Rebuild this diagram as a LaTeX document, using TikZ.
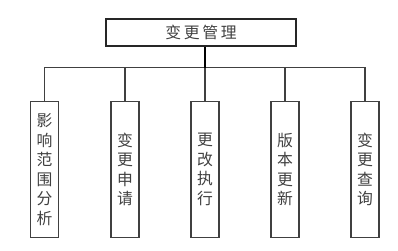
\documentclass[tikz,border=0pt]{standalone}
\usepackage{fontspec}
\usepackage{xcolor}
\usepackage{tikz}
\usetikzlibrary{positioning}
\newfontfamily\cjk{Noto Sans CJK SC}

\begin{document}
\begin{tikzpicture}[
    x=0.02cm,y=-0.02cm,
    rootbox/.style={draw=black!85,line width=0.6pt,minimum width=190*0.02cm,
                    minimum height=27*0.02cm,inner sep=0pt,
                    font=\cjk\fontsize{9}{11}\selectfont,text=black!75},
    taskbox/.style={draw=black!75,line width=0.6pt,minimum width=28*0.02cm,
                    minimum height=136*0.02cm,inner sep=0pt,anchor=north,
                    align=center,font=\cjk\fontsize{9}{11.1}\selectfont,text=black!75},
    link/.style={draw=black!75,line width=0.6pt},
    trunk/.style={draw=black,line width=0.8pt}
]
    \useasboundingbox (0,0) rectangle (398,250);

    % Root of the tree and the bus that feeds the five tasks.
    \node[rootbox] (root) at (201,32.5) {变\hspace{1.5pt}更\hspace{1.5pt}管\hspace{1.5pt}理};
    \coordinate (bus) at (0,67.5);

    \node[taskbox] (t1) at (44.5,101) {影\\响\\范\\围\\分\\析};
    \node[taskbox] (t2) at (125,101) {变\\更\\申\\请};
    \node[taskbox] (t3) at (205,101) {更\\改\\执\\行};
    \node[taskbox] (t4) at (285,101) {版\\本\\更\\新};
    \node[taskbox] (t5) at (365,101) {变\\更\\查\\询};

    \draw[link] (t1.north) -- (t1.north |- bus) -- (t5.north |- bus) -- (t5.north);
    \foreach \t in {t2,t3,t4}
        \draw[link] (\t.north) -- (\t.north |- bus);
    \draw[trunk] (t3.north |- root.south) -- (t3.north |- bus);
\end{tikzpicture}
\end{document}
